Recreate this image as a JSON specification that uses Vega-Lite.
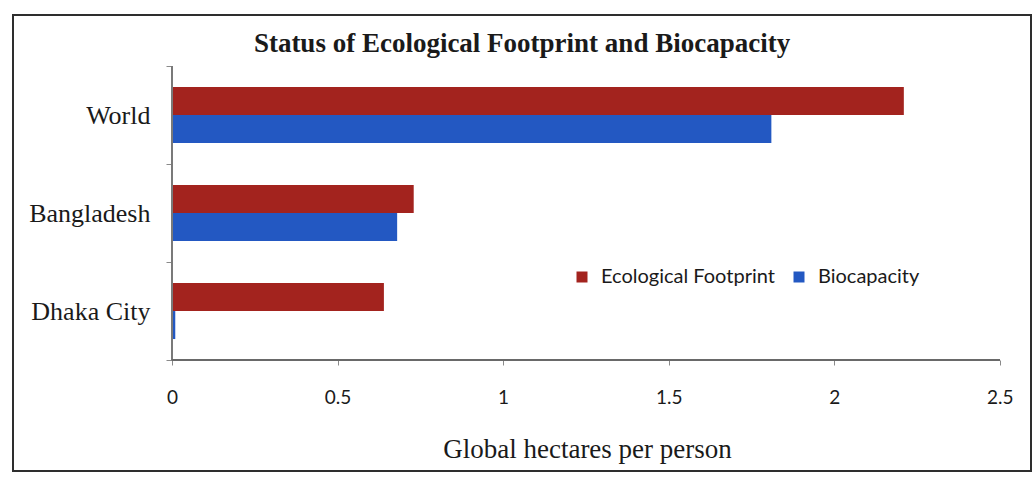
{
  "$schema": "https://vega.github.io/schema/vega-lite/v6.json",
  "width": 1018,
  "height": 456,
  "autosize": {"type": "none"},
  "padding": {"left": 13, "top": 15, "right": 5, "bottom": 9},
  "background": "white",
  "config": {
    "view": {"stroke": "#2e2e2e", "strokeWidth": 2},
    "axis": {"grid": false}
  },
  "title": {
    "text": "Status of Ecological Footprint and Biocapacity",
    "font": "Liberation Serif",
    "fontSize": 27,
    "fontWeight": "bold",
    "color": "#1a1a1a",
    "anchor": "middle",
    "offset": -56
  },
  "data": {
    "values": [
      {"region": "World", "measure": "Ecological Footprint", "value": 2.21},
      {"region": "World", "measure": "Biocapacity", "value": 1.81},
      {"region": "Bangladesh", "measure": "Ecological Footprint", "value": 0.73},
      {"region": "Bangladesh", "measure": "Biocapacity", "value": 0.68},
      {"region": "Dhaka City", "measure": "Ecological Footprint", "value": 0.64},
      {"region": "Dhaka City", "measure": "Biocapacity", "value": 0.01}
    ]
  },
  "layer": [
    {
      "mark": {"type": "bar"},
      "encoding": {
        "y": {
          "field": "region",
          "type": "nominal",
          "sort": null,
          "scale": {"paddingInner": 0, "paddingOuter": 0.8265, "align": 0.315},
          "axis": {
            "title": null,
            "domain": false,
            "tickBand": "extent",
            "tickSize": 6,
            "tickColor": "#8a8a8a",
            "offset": -159,
            "labelFont": "Liberation Serif",
            "labelFontSize": 26,
            "labelColor": "#1a1a1a",
            "labelPadding": 16
          }
        },
        "yOffset": {
          "field": "measure",
          "type": "nominal",
          "sort": ["Ecological Footprint", "Biocapacity"],
          "scale": {"paddingInner": 0, "paddingOuter": 0.75}
        },
        "x": {
          "field": "value",
          "type": "quantitative",
          "stack": null,
          "scale": {"domain": [-0.48, 2.594], "nice": false, "zero": false},
          "axis": {
            "values": [0, 0.5, 1, 1.5, 2, 2.5],
            "format": "~g",
            "domain": false,
            "offset": -111,
            "tickSize": 5,
            "tickColor": "#8a8a8a",
            "labelFont": "Lato",
            "labelFontSize": 19,
            "labelColor": "#1a1a1a",
            "labelPadding": 23,
            "title": "Global hectares per person",
            "titleFont": "Liberation Serif",
            "titleFontSize": 27,
            "titleFontWeight": "normal",
            "titleColor": "#1a1a1a",
            "titleX": 574,
            "titlePadding": 29
          }
        },
        "x2": {"datum": 0},
        "color": {
          "field": "measure",
          "type": "nominal",
          "scale": {
            "domain": ["Ecological Footprint", "Biocapacity"],
            "range": ["#A3231E", "#2358C2"]
          },
          "legend": {
            "title": null,
            "orient": "none",
            "direction": "horizontal",
            "legendX": 559,
            "legendY": 252,
            "symbolType": "square",
            "symbolSize": 121,
            "symbolStrokeWidth": 0,
            "labelFont": "Lato",
            "labelFontSize": 20,
            "labelLimit": 0,
            "labelColor": "#1a1a1a",
            "labelOffset": 9,
            "columnPadding": 14
          }
        }
      }
    },
    {
      "mark": {"type": "rule", "color": "#7a7a7a", "strokeWidth": 1.5},
      "encoding": {
        "x": {"datum": 0},
        "y": {"datum": "World", "bandPosition": 0},
        "y2": {"datum": "Dhaka City", "bandPosition": 1}
      }
    },
    {
      "mark": {"type": "rule", "color": "#6a6a6a", "strokeWidth": 1.5},
      "encoding": {
        "x": {"datum": 0},
        "x2": {"datum": 2.5},
        "y": {"datum": "Dhaka City", "bandPosition": 1}
      }
    }
  ]
}
